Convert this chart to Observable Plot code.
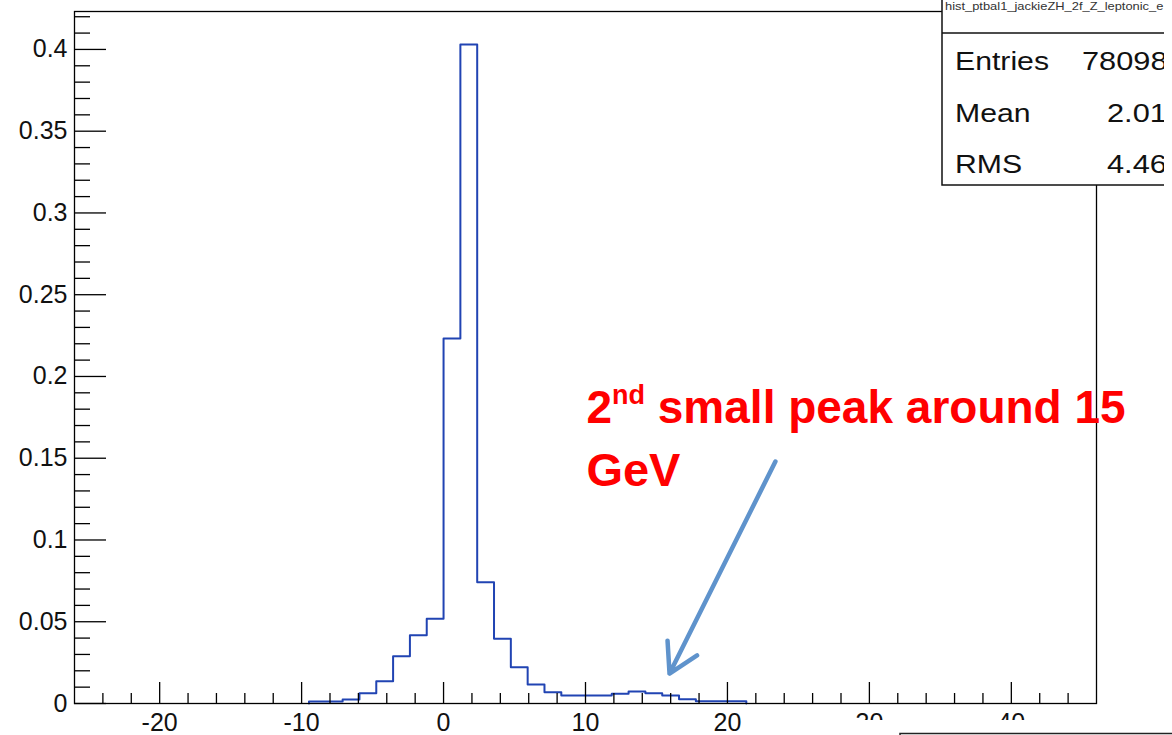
<!DOCTYPE html>
<html><head><meta charset="utf-8">
<script src="https://cdn.jsdelivr.net/npm/d3@7"></script>
<script src="https://cdn.jsdelivr.net/npm/@observablehq/plot@0.6"></script>
<style>
html,body{margin:0;padding:0;background:#fff;overflow:hidden;}
#chart{position:relative;width:1172px;height:735px;overflow:hidden;}
</style></head><body><div id="chart"></div>
<script>
// ---- data ----
const binWidth = 1.185;
const binLow = [-9.48, -8.295, -7.11, -5.925, -4.74, -3.555, -2.37, -1.185, 0, 1.185, 2.37, 3.555, 4.74, 5.925, 7.11, 8.295, 9.48, 10.665, 11.85, 13.035, 14.22, 15.405, 16.59, 17.775, 18.96, 20.145];
const binValue = [0.0012, 0.0012, 0.0024, 0.0063, 0.0136, 0.0289, 0.0418, 0.0518, 0.2232, 0.403, 0.0742, 0.0396, 0.0222, 0.0116, 0.0069, 0.0049, 0.0049, 0.0049, 0.0059, 0.0073, 0.0063, 0.0049, 0.0026, 0.0014, 0.0014, 0.0014];
const xDomain = [-26, 46];
const yDomain = [0, 0.4232];
const xMajorTicks = [-20, -10, 0, 10, 20, 30, 40];
const xMinorTicks = [-24, -22, -18, -16, -14, -12, -8, -6, -4, -2, 2, 4, 6, 8, 12, 14, 16, 18, 22, 24, 26, 28, 32, 34, 36, 38, 42, 44];
const yMajorTicks = [0, 0.05, 0.1, 0.15, 0.2, 0.25, 0.3, 0.35, 0.4];
const yMinorTicks = [0.01, 0.02, 0.03, 0.04, 0.06, 0.07, 0.08, 0.09, 0.11, 0.12, 0.13, 0.14, 0.16, 0.17, 0.18, 0.19, 0.21, 0.22, 0.23, 0.24, 0.26, 0.27, 0.28, 0.29, 0.31, 0.32, 0.33, 0.34, 0.36, 0.37, 0.38, 0.39, 0.41, 0.42];
const histTitle = "hist_ptbal1_jackieZH_2f_Z_leptonic_e";
const statNames = ["Entries", "Mean", "RMS"];
const statValues = ["78098", "2.01", "4.46"];
const annotationLine1 = ["2", "nd", " small peak around 15"];
const annotationLine2 = "GeV";
const annotationAnchor = {x: 10.1, y1: 0.1713, y2: 0.1327};
const arrowData = [{x1: 23.38, y1: 0.148, x2: 15.92, y2: 0.0183}];

// ---- build step outline ----
const last = binLow.length - 1;
const stepPoints = [{x: binLow[0], y: 0}]
  .concat(binLow.map((x, i) => ({x, y: binValue[i]})))
  .concat([{x: binLow[last] + binWidth, y: binValue[last]}, {x: binLow[last] + binWidth, y: 0}]);

const fmtY = d => String(+d.toFixed(2));
const fmtX = d => String(d);
const blank = () => "";

const plot = Plot.plot({
  width: 1172,
  height: 735,
  marginLeft: 74,
  marginRight: 76,
  marginTop: 11,
  marginBottom: 32,
  style: {fontFamily: "'Liberation Sans', Arial, Helvetica, sans-serif", fontSize: "25px", color: "#000", background: "#fff"},
  x: {domain: xDomain},
  y: {domain: yDomain},
  marks: [
    Plot.line(stepPoints, {x: "x", y: "y", curve: "step-after", stroke: "#2144b3", strokeWidth: 2}),
    Plot.arrow(arrowData, {x1: "x1", y1: "y1", x2: "x2", y2: "y2", stroke: "#5f93cc", strokeWidth: 4.5, headLength: 11, headAngle: 60}),
    Plot.frame({stroke: "#000", strokeWidth: 1.3}),
    Plot.axisX({ticks: xMajorTicks, tickSize: -21, tickFormat: blank, label: null, strokeWidth: 1.3}),
    Plot.axisX({ticks: xMinorTicks, tickSize: -10, tickFormat: blank, label: null, strokeWidth: 1.3}),
    Plot.axisX({ticks: xMajorTicks, tickSize: 0, tickPadding: 10, tickFormat: fmtX, label: null, fill: "#111"}),
    Plot.axisY({ticks: yMajorTicks, tickSize: -32, tickFormat: blank, label: null, strokeWidth: 1.3}),
    Plot.axisY({ticks: yMinorTicks, tickSize: -16, tickFormat: blank, label: null, strokeWidth: 1.3}),
    Plot.axisY({ticks: yMajorTicks, tickSize: 0, tickPadding: 7, tickFormat: fmtY, label: null, fill: "#111"})
  ]
});
document.getElementById("chart").appendChild(plot);

const svg = d3.select(plot);
const xs = plot.scale("x"), ys = plot.scale("y");
const fontStack = "'Liberation Sans', Arial, Helvetica, sans-serif";

// ---- red annotation ----
const ax = xs.apply(annotationAnchor.x);
const t1 = svg.append("text")
  .attr("x", ax).attr("y", ys.apply(annotationAnchor.y1)).attr("text-anchor", "start")
  .attr("fill", "#ff0000").attr("font-weight", "bold").attr("font-size", 46)
  .attr("font-family", fontStack);
t1.append("tspan").text(annotationLine1[0]);
t1.append("tspan").attr("font-size", 27).attr("dy", -19).text(annotationLine1[1]);
t1.append("tspan").attr("dy", 19).text(annotationLine1[2]);
svg.append("text")
  .attr("x", ax).attr("y", ys.apply(annotationAnchor.y2)).attr("text-anchor", "start")
  .attr("fill", "#ff0000").attr("font-weight", "bold").attr("font-size", 47)
  .attr("font-family", fontStack)
  .text(annotationLine2);

// ---- stats box (top right, cut by picture edge) ----
svg.append("clipPath").attr("id", "statclip").append("rect").attr("x", 0).attr("y", 0).attr("width", 1164).attr("height", 735);
const sb = svg.append("g").attr("clip-path", "url(#statclip)")
  .attr("font-family", fontStack).attr("text-anchor", "start");
sb.append("rect").attr("x", 942).attr("y", -3).attr("width", 260).attr("height", 188)
  .attr("fill", "#fff").attr("stroke", "#111").attr("stroke-width", 1.5);
sb.append("line").attr("x1", 942).attr("x2", 1200).attr("y1", 33).attr("y2", 33)
  .attr("stroke", "#111").attr("stroke-width", 1.5);
const tt = sb.append("text").attr("x", 945).attr("y", 10).attr("font-size", 11.5).attr("fill", "#333").text(histTitle);
tt.attr("textLength", tt.node().getComputedTextLength() * 1.12).attr("lengthAdjust", "spacingAndGlyphs");
const valueX = [1082, 1107, 1107];
statNames.forEach((n, i) => {
  const y = 70 + i * 51.5;
  const a = sb.append("text").attr("x", 955).attr("y", y).attr("font-size", 26.5).attr("fill", "#111").text(n);
  a.attr("textLength", a.node().getComputedTextLength() * 1.14).attr("lengthAdjust", "spacingAndGlyphs");
  const b = sb.append("text").attr("x", valueX[i]).attr("y", y).attr("font-size", 26.5).attr("fill", "#111").text(statValues[i]);
  b.attr("textLength", b.node().getComputedTextLength() * 1.16).attr("lengthAdjust", "spacingAndGlyphs");
});

// ---- overlapping pane at bottom right ----
svg.append("rect").attr("x", 845).attr("y", 720).attr("width", 340).attr("height", 20).attr("fill", "#fff");
svg.append("path").attr("d", "M900,740V733.5H1172").attr("fill", "none").attr("stroke", "#222").attr("stroke-width", 1.5);
</script></body></html>
